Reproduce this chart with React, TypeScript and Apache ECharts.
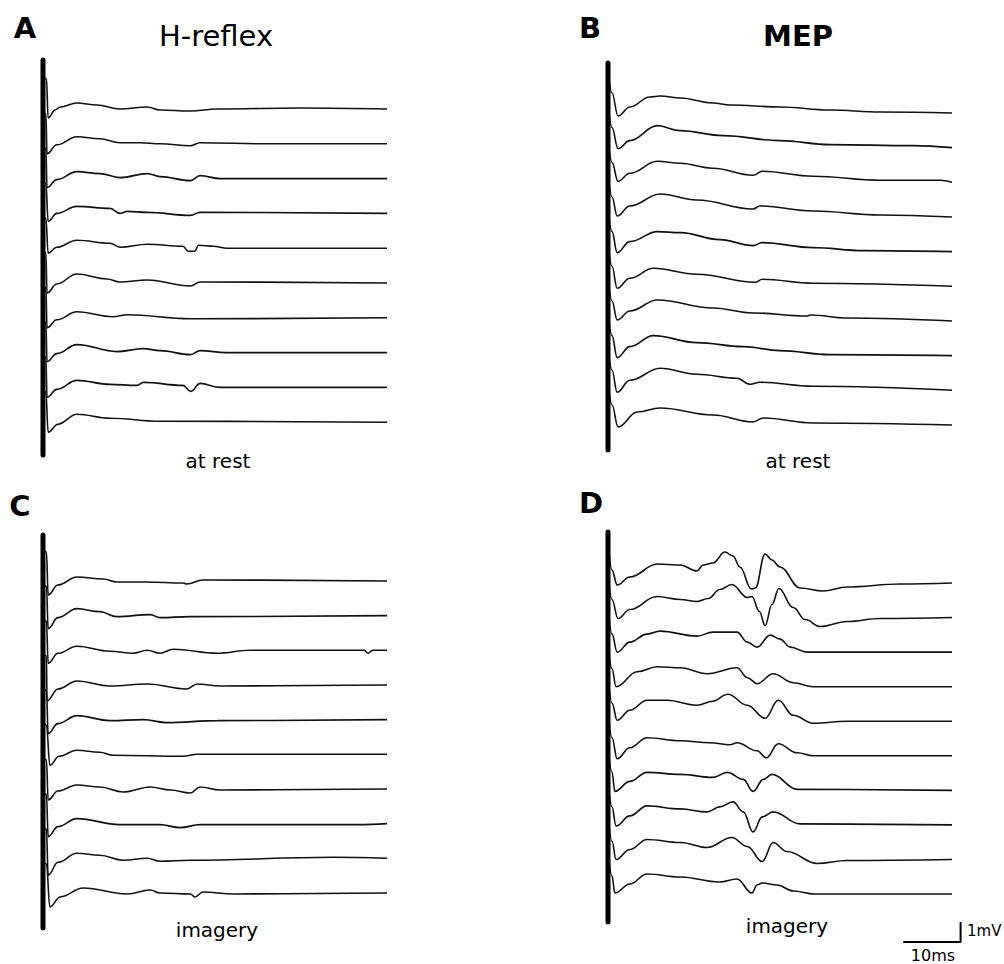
import { useEffect, useRef } from "react";
import * as echarts from "echarts";

type Pt = [number, number];

// time in ms after stimulus, amplitude in mV (relative to each trace's end level)
const hReflexRest: Pt[][] = [
  [[0,1.6],[0.6,1.5],[0.9,-0.45],[2.1,-0.05],[3.0,0.1],[5.9,0.3],[9.4,0.2],[13.4,0],[18.2,0.1],[20.4,-0.05],[25.7,-0.1],[30.4,0],[44.9,0.05],[60,0]],
  [[0,1.6],[0.5,1.5],[0.7,-0.5],[2.4,-0.05],[5.9,0.35],[9.9,0.25],[13.4,0.05],[16.9,0.05],[20.4,0],[25.7,-0.1],[27.4,0.05],[39,0],[60,0]],
  [[0,1.6],[0.5,1.5],[0.7,-0.45],[2.4,-0.05],[5.9,0.35],[9.9,0.25],[13.4,0.05],[18.2,0.25],[20.4,0.1],[25.7,-0.1],[27.4,0.15],[30.9,0],[60,0]],
  [[0,1.6],[0.5,1.5],[0.9,-0.4],[2.4,0],[5.9,0.35],[11.7,0.25],[13.4,0],[14.7,0.1],[18.2,0.05],[25.7,-0.1],[27.4,0.05],[60,0]],
  [[0,1.6],[0.5,1.5],[0.9,-0.25],[2.4,0.05],[5.9,0.4],[11.7,0.25],[13.4,0.05],[18.2,0.2],[24.4,0.1],[25.3,-0.15],[26.5,-0.15],[27.1,0.15],[29.7,0.1],[32.1,0],[60,0]],
  [[0,1.6],[0.5,1.5],[0.7,-0.5],[2.4,-0.05],[5.9,0.45],[11.2,0.2],[13.4,0.05],[18.2,0.15],[25.7,-0.15],[27.4,0.05],[60,0]],
  [[0,1.6],[0.5,1.5],[0.7,-0.5],[2.4,-0.1],[5.9,0.3],[12.2,0.05],[14.7,0.15],[25.7,-0.05],[60,0]],
  [[0,1.6],[0.5,1.5],[0.7,-0.45],[2.4,-0.05],[5.9,0.4],[12.9,0.05],[17.5,0.2],[20.4,0.1],[25.7,-0.1],[27.4,0.1],[32,0],[60,0]],
  [[0,1.6],[0.5,1.5],[0.7,-0.5],[2.4,-0.1],[5.9,0.35],[11.7,0.15],[16.4,0.1],[17.5,0.25],[24.4,0.1],[25.8,-0.2],[27.4,0.2],[30.9,0],[60,0]],
  [[0,1.6],[0.5,1.5],[0.9,-0.5],[2.6,-0.1],[5.9,0.4],[11.7,0.2],[20.4,0.05],[60,0]],
];

const mepRest: Pt[][] = [
  [[0,2.2],[0.7,1.0],[1.75,-0.15],[3.8,0.3],[7.3,0.8],[9.1,0.85],[12.6,0.75],[18.3,0.5],[21.3,0.4],[30,0.3],[38.7,0.15],[47.5,0.05],[60,0]],
  [[0,2.2],[0.7,1.0],[1.75,-0.05],[3.8,0.35],[8.6,1.1],[12.6,0.85],[20.1,0.6],[30,0.35],[38.7,0.15],[53.2,0.1],[60,0]],
  [[0,2.2],[0.7,1.0],[1.75,0.05],[3.8,0.45],[8.6,1.05],[12.6,0.95],[18.3,0.7],[25.3,0.35],[26.9,0.55],[35.8,0.3],[47.5,0.1],[58,0.1],[60,0]],
  [[0,2.2],[0.7,1.0],[1.6,0.05],[3.8,0.55],[9.1,1.15],[15.5,0.85],[25.3,0.4],[26.5,0.55],[35.8,0.3],[47.5,0.1],[60,0]],
  [[0,2.2],[0.7,1.0],[1.6,-0.05],[3.8,0.5],[8.6,1.0],[12.6,0.95],[19.5,0.6],[25.3,0.3],[26.9,0.45],[35.8,0.2],[44.5,0.05],[60,0]],
  [[0,2.2],[0.7,1.0],[1.6,-0.1],[3.8,0.4],[7.9,0.9],[15.5,0.6],[25.7,0.2],[26.9,0.35],[35.8,0.15],[60,0]],
  [[0,2.2],[0.7,1.0],[1.6,0.05],[3.8,0.5],[8.6,1.05],[18.3,0.65],[25.3,0.4],[34.7,0.25],[35.3,0.3],[41.7,0.15],[60,0]],
  [[0,2.2],[0.7,1.0],[1.6,-0.1],[3.8,0.45],[7.9,1.0],[15.5,0.65],[23.6,0.45],[30,0.25],[38.7,0.05],[60,0]],
  [[0,2.2],[0.7,1.0],[1.6,-0.1],[3.8,0.5],[9.1,1.1],[15.5,0.8],[22.5,0.6],[24.8,0.3],[26.5,0.4],[35.8,0.2],[60,0]],
  [[0,2.2],[0.7,1.0],[1.75,-0.1],[5.1,0.65],[9.1,0.85],[18.3,0.5],[25.3,0.15],[27.1,0.35],[35.8,0.1],[60,0]],
];

const hReflexImagery: Pt[][] = [
  [[0,1.6],[0.6,1.45],[0.9,-0.7],[2.6,-0.2],[5.9,0.2],[10.5,0.1],[12.9,-0.05],[18,-0.05],[24.4,-0.1],[25.1,-0.15],[27.9,0.05],[60,0]],
  [[0,1.6],[0.6,1.45],[0.9,-0.65],[2.6,-0.1],[5.9,0.35],[9.9,0.2],[12.9,-0.05],[18.7,0.05],[20.4,-0.1],[25.7,-0.05],[60,0]],
  [[0,1.6],[0.6,1.45],[0.9,-0.65],[2.6,-0.15],[5.9,0.2],[11.7,-0.05],[15.7,-0.15],[18.2,0],[20.4,-0.15],[22.7,0.05],[30.4,-0.15],[36.1,0],[56,0],[56.7,-0.15],[57.5,0],[60,0]],
  [[0,1.6],[0.6,1.45],[0.7,-0.8],[2.6,-0.2],[5.9,0.2],[11.7,-0.05],[18.2,0.05],[25.1,-0.2],[26.9,0.05],[30.9,-0.05],[60,0]],
  [[0,1.6],[0.6,1.45],[0.9,-0.7],[2.6,-0.2],[5.9,0.2],[11.7,-0.05],[17.5,0],[21.6,-0.15],[30.4,-0.05],[60,0]],
  [[0,1.6],[0.6,1.45],[1.2,-0.55],[2.8,-0.1],[5.9,0.2],[9.9,0.1],[12.2,-0.05],[24.4,-0.1],[26.9,0],[60,0]],
  [[0,1.6],[0.6,1.45],[0.9,-0.55],[2.6,-0.1],[5.9,0.2],[9.9,0.1],[14,-0.15],[18.7,0.1],[22.2,-0.05],[25.7,-0.2],[27.4,0.1],[30.9,-0.05],[60,0]],
  [[0,1.6],[0.6,1.45],[0.9,-0.65],[2.6,-0.15],[5.9,0.25],[13.4,-0.05],[20.4,-0.05],[23.9,-0.2],[27.4,-0.05],[55,-0.05],[60,0]],
  [[0,1.6],[0.6,1.45],[0.9,-0.85],[2.6,-0.2],[5.9,0.25],[9.9,0.15],[14,-0.1],[18.2,0],[20.4,-0.15],[25.7,-0.1],[50.6,0.05],[60,0]],
  [[0,1.6],[0.6,1.45],[1.2,-0.7],[3,-0.2],[7,0.25],[14.7,-0.05],[18.7,0.15],[20.4,0],[25.7,-0.05],[26.5,-0.2],[27.9,0.05],[33.2,-0.05],[60,0]],
];

const mepImagery: Pt[][] = [
  [[0,2.2],[0.7,0.65],[1.6,-0.1],[3.8,0.3],[8.6,0.95],[12.6,0.9],[15.5,0.6],[16.6,0.9],[18.3,1.0],[20.4,1.55],[21.8,1.35],[23.0,0.8],[25.0,-0.3],[25.7,-0.25],[27.4,1.45],[28.6,1.15],[30.0,0.8],[33.5,-0.25],[37.5,-0.4],[41.7,-0.2],[51,-0.05],[60,0]],
  [[0,2.2],[0.7,0.9],[1.75,-0.05],[3.8,0.4],[8.55,1.05],[12.6,0.9],[15.5,0.8],[17.5,0.95],[19.5,1.4],[21.6,1.65],[24.3,1.0],[25.1,1.05],[26.4,0.3],[27.4,-0.4],[28.6,0.65],[29.8,1.45],[32.3,0.5],[34.4,-0.1],[37,-0.45],[41.7,-0.2],[47.5,-0.05],[60,0]],
  [[0,2.2],[0.7,0.9],[1.6,0],[3.8,0.5],[6.8,0.9],[9.1,1.05],[15.5,0.8],[18.3,1.0],[22.5,1.0],[24.3,0.5],[26,0.25],[28.3,0.85],[30,0.65],[31.8,0.25],[34.7,0],[60,0]],
  [[0,2.2],[0.7,0.9],[1.4,0],[5.1,0.75],[8.6,1.0],[12.6,0.95],[17.3,0.65],[22.5,0.95],[24.3,0.45],[26,0.15],[28.8,0.65],[32.3,0.2],[35.8,0],[60,0]],
  [[0,2.2],[0.7,0.9],[1.6,0.05],[3.8,0.55],[6.8,1.05],[10.3,1.05],[15.5,0.8],[18.3,1.0],[20.9,1.35],[24.3,0.8],[27.4,0.15],[29.7,1.05],[32.3,0.3],[35.8,-0.1],[41.7,0],[60,0]],
  [[0,2.2],[0.7,0.9],[1.6,-0.15],[3.8,0.4],[6.8,0.9],[12.6,0.75],[17.8,0.65],[21.3,0.55],[22.5,0.65],[26,0.25],[27.6,-0.1],[29.7,0.6],[33,0.15],[35.8,0],[60,0]],
  [[0,2.2],[0.7,0.9],[1.2,-0.05],[3.8,0.45],[6.8,0.9],[12.6,0.8],[18.3,0.65],[20.8,0.9],[23.6,0.55],[25.3,-0.05],[27.1,0.55],[28.6,0.8],[33,0.05],[60,0]],
  [[0,2.2],[0.7,0.9],[1.4,-0.05],[3.8,0.45],[6.8,0.95],[12.6,0.8],[17.3,0.65],[19.5,0.9],[21.8,1.15],[23.6,0.65],[25.3,-0.35],[26.9,0.4],[28.8,0.65],[33.5,0.05],[60,0]],
  [[0,2.2],[0.7,0.9],[1.4,0],[3.8,0.5],[6.8,1.0],[12.6,0.85],[17.3,0.6],[21.6,1.1],[24.3,0.65],[26.9,-0.1],[28.8,0.85],[31.2,0.4],[36.5,-0.2],[41.7,-0.05],[60,0]],
  [[0,2.2],[0.7,0.9],[1.2,0.05],[3.8,0.5],[6.8,1.0],[12.6,0.85],[19.5,0.6],[22.5,0.75],[25.1,0.05],[26,0.45],[26.9,0.55],[29.5,0.45],[32.3,0.15],[36,0],[60,0]],
];

const panelLetters = ["A", "B", "C", "D"];
const columnTitles = ["H-reflex", "MEP"];
const conditionLabels = ["at rest", "at rest", "imagery", "imagery"];
const scaleBarMs = 10;
const scaleBarMv = 1;
const scaleLabels = ["1mV", "10ms"];

const FONT = "'DejaVu Sans', 'Liberation Sans', sans-serif";

const X_MAX = 62;
const PX_PER_MS = 344 / 60;

const panels = [
  { traces: hReflexRest, left: 43, top: 57, first: 2.6, step: 1.74, bar: [-0.15, -19.9] },
  { traces: mepRest, left: 608, top: 57, first: 2.8, step: 1.733, bar: [-0.3, -19.65] },
  { traces: hReflexImagery, left: 43, top: 530, first: 2.55, step: 1.733, bar: [-0.25, -19.9] },
  { traces: mepImagery, left: 608, top: 530, first: 2.65, step: 1.728, bar: [-0.1, -19.6] },
];

function text(x: number, y: number, t: string, size: number, bold: boolean, align = "center") {
  return {
    type: "text",
    x,
    y,
    silent: true,
    style: {
      text: t,
      fill: "#000",
      font: `${bold ? "bold " : ""}${size}px ${FONT}`,
      fontSize: size,
      fontFamily: FONT,
      fontWeight: bold ? "bold" : "normal",
      align,
      verticalAlign: "middle",
      textAlign: align,
      textVerticalAlign: "middle",
    },
  };
}

export default function App() {
  const ref = useRef<HTMLDivElement>(null);
  useEffect(() => {
    if (!ref.current) return;
    const chart = echarts.init(ref.current, undefined, { renderer: "svg" });
    const grids: any[] = [];
    const xAxes: any[] = [];
    const yAxes: any[] = [];
    const series: any[] = [];
    panels.forEach((p, i) => {
      grids.push({ left: p.left, top: p.top, width: X_MAX * PX_PER_MS, height: 420, containLabel: false });
      xAxes.push({ type: "value", gridIndex: i, min: 0, max: X_MAX, show: false });
      yAxes.push({ type: "value", gridIndex: i, min: -21, max: 0, show: false });
      p.traces.forEach((tr, k) => {
        const off = p.first + k * p.step;
        series.push({
          type: "line",
          xAxisIndex: i,
          yAxisIndex: i,
          data: tr.map(([t, v]) => [t, v - off]),
          symbol: "none",
          showSymbol: false,
          smooth: 0.4,
          smoothMonotone: "x",
          clip: false,
          silent: true,
          lineStyle: { color: "#111", width: 1.6 },
        });
      });
      series.push({
        type: "line",
        xAxisIndex: i,
        yAxisIndex: i,
        data: [[0, p.bar[0]], [0, p.bar[1]]],
        symbol: "none",
        clip: false,
        silent: true,
        lineStyle: { color: "#000", width: 5, cap: "round" },
      });
    });
    // scale bar in panel D coordinates
    const sx0 = 51.5;
    const sy0 = -20.6;
    series.push({
      type: "line",
      xAxisIndex: 3,
      yAxisIndex: 3,
      data: [[sx0, sy0], [sx0 + scaleBarMs, sy0], [sx0 + scaleBarMs, sy0 + scaleBarMv]],
      symbol: "none",
      clip: false,
      silent: true,
      lineStyle: { color: "#000", width: 2 },
    });

    const graphic: any[] = [
      text(25, 28, panelLetters[0], 29, true),
      text(590, 28, panelLetters[1], 29, true),
      text(20, 506, panelLetters[2], 29, true),
      text(591, 503, panelLetters[3], 29, true),
      text(216, 36, columnTitles[0], 29, false),
      text(798, 36, columnTitles[1], 29, true),
      text(218, 461, conditionLabels[0], 20, false),
      text(798, 461, conditionLabels[1], 20, false),
      text(217, 930, conditionLabels[2], 20, false),
      text(787, 926, conditionLabels[3], 20, false),
      text(967, 931, scaleLabels[0], 15, false, "left"),
      text(933, 955, scaleLabels[1], 16, false),
    ];

    chart.setOption({
      animation: false,
      backgroundColor: "#fff",
      grid: grids,
      xAxis: xAxes,
      yAxis: yAxes,
      series,
      graphic,
    });
    return () => chart.dispose();
  }, []);
  return (
    <div
      ref={ref}
      style={{ position: "fixed", left: 0, top: 0, width: 1004, height: 964, background: "#fff" }}
    />
  );
}
